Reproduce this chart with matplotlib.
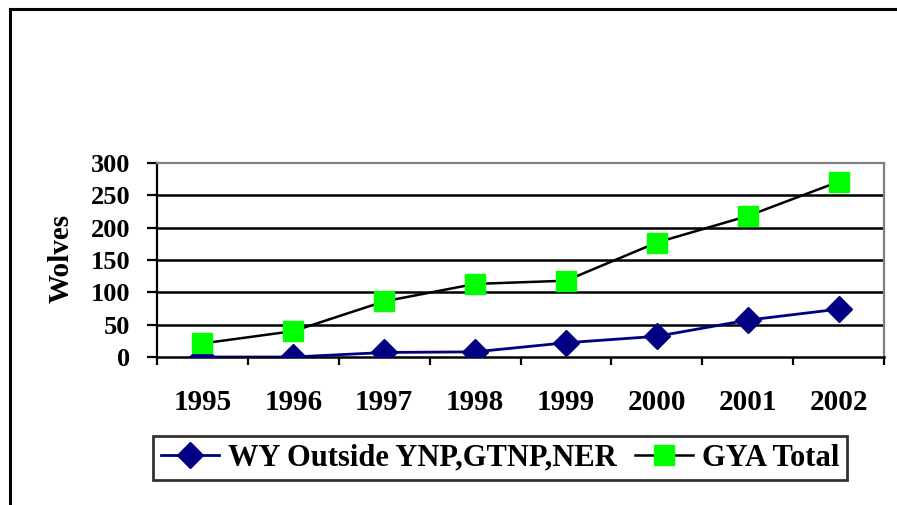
import numpy as np
import matplotlib.pyplot as plt
from matplotlib.lines import Line2D

years = ['1995', '1996', '1997', '1998', '1999', '2000', '2001', '2002']
wy_outside = [0, 0, 7, 8, 22, 32, 57, 74]
gya_total = [21, 40, 86, 113, 118, 177, 218, 271]
y_ticks = [0, 50, 100, 150, 200, 250, 300]

plt.rcParams['font.family'] = 'Liberation Serif'
plt.rcParams['font.weight'] = 'bold'

fig = plt.figure(figsize=(8.97, 5.05), dpi=100)
W, H = 897, 505

# outer frame (only top and left visible)
fig.add_artist(Line2D([10 / W, 10 / W], [0, 1 - 9 / H], color='black', lw=2.2))
fig.add_artist(Line2D([10 / W, 1], [1 - 9 / H, 1 - 9 / H], color='black', lw=2.2))

ax = fig.add_axes([157 / W, 1 - 357 / H, (884 - 157) / W, (357 - 163) / H])
x = np.arange(len(years))

ax.plot(x, wy_outside, color='#000080', lw=2, marker='D', ms=13.5,
        mfc='#000080', mec='#000080', label='WY Outside YNP,GTNP,NER', zorder=3)
ax.plot(x, gya_total, color='black', lw=1.8, marker='s', ms=15,
        mfc='#00FF00', mec='#00FF00', label='GYA Total', zorder=3)

ax.set_xlim(-0.5, len(years) - 0.5)
ax.set_ylim(0, 300)
ax.set_yticks(y_ticks)
ax.set_yticklabels([str(v) for v in y_ticks], fontsize=19, fontweight='bold')
ax.set_xticks(x)
ax.set_xticklabels(years, fontsize=21, fontweight='bold')
ax.set_xticks(np.arange(-0.5, len(years)), minor=True)
ax.tick_params(axis='x', which='major', length=0, pad=23)
ax.tick_params(axis='x', which='minor', length=5.5, width=1.6, direction='out')
ax.tick_params(axis='y', length=7, width=1.6, pad=12)

for v in y_ticks[1:-1]:
    ax.axhline(v, color='black', lw=1.8, zorder=1)

ax.spines['left'].set_linewidth(1.6)
ax.spines['bottom'].set_linewidth(1.8)
ax.spines['top'].set_color('#808080')
ax.spines['top'].set_linewidth(1.6)
ax.spines['right'].set_color('#808080')
ax.spines['right'].set_linewidth(1.6)

ax.set_ylabel('Wolves', fontsize=21, fontweight='bold')
ax.yaxis.set_label_coords(-82 / (884 - 157), (357 - 258) / (357 - 163))

leg = fig.legend(loc='center', bbox_to_anchor=(500 / W, 1 - 458 / H), ncol=2,
                 prop={'family': 'Liberation Serif', 'weight': 'bold', 'size': 22},
                 frameon=True, fancybox=False, handlelength=1.9, handletextpad=0.3,
                 columnspacing=0.6, borderpad=0.25)
leg.get_frame().set_edgecolor('black')
leg.get_frame().set_linewidth(2)

fig.savefig('out.png', dpi=100)
